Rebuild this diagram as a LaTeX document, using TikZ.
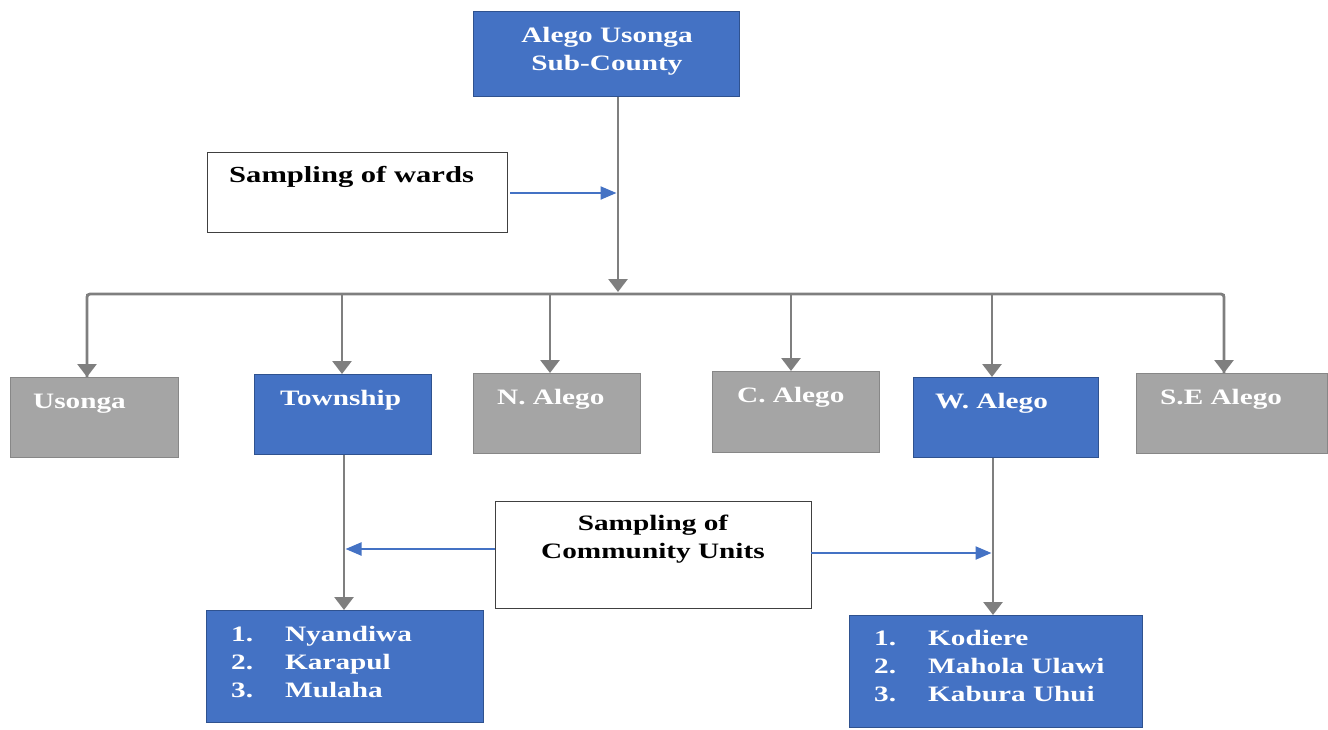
\documentclass[tikz,border=0pt]{standalone}
\usepackage{fontspec}
\setmainfont{Liberation Serif}[FakeStretch=1.33]
\usetikzlibrary{arrows.meta}
\definecolor{boxblue}{HTML}{4472C4}
\definecolor{blueedge}{HTML}{2F528F}
\definecolor{boxgray}{HTML}{A5A5A5}
\definecolor{grayedge}{HTML}{878787}
\definecolor{conngray}{HTML}{7F7F7F}
\definecolor{arrowblue}{HTML}{4472C4}
\begin{document}
\begin{tikzpicture}[x=1pt,y=-1pt,
  bluebox/.style={draw=blueedge, fill=boxblue, line width=1pt, inner sep=0pt, anchor=north west},
  graybox/.style={draw=grayedge, fill=boxgray, line width=1.2pt, inner sep=0pt, anchor=north west},
  whitebox/.style={draw=black!75, fill=white, line width=1.3pt, inner sep=0pt, anchor=north west},
  wtext/.style={text=white, font=\bfseries\fontsize{22}{28}\selectfont, inner sep=0pt},
  ktext/.style={text=black, font=\bfseries\fontsize{22}{28}\selectfont, inner sep=0pt},
  conn/.style={draw=conngray, line width=2.8pt, -{Triangle[length=13pt,width=19pt]}},
  bus/.style={draw=conngray, line width=2.8pt},
  barrow/.style={draw=arrowblue, line width=2.2pt, -{Triangle[length=16pt,width=13pt]}}
]
\useasboundingbox (0,0) rectangle (1328,729);

% top box
\node[bluebox, minimum width=266pt, minimum height=85pt] (top) at (473,11) {};
\node[wtext, align=center, anchor=base] (toptxt) at (607,70) {Alego Usonga\\Sub-County};

% sampling of wards
\node[whitebox, minimum width=300pt, minimum height=80pt] (sw) at (207,152) {};
\node[ktext, anchor=base west, font=\bfseries\fontsize{23}{28}\selectfont] (swtxt) at (229,182) {Sampling of wards};

% ward boxes
\node[graybox, minimum width=168pt, minimum height=80pt] (usonga) at (10,377) {};
\node[bluebox, minimum width=177pt, minimum height=80pt] (township) at (254,374) {};
\node[graybox, minimum width=167pt, minimum height=80pt] (nalego) at (473,373) {};
\node[graybox, minimum width=167pt, minimum height=81pt] (calego) at (712,371) {};
\node[bluebox, minimum width=185pt, minimum height=80pt] (walego) at (913,377) {};
\node[graybox, minimum width=191pt, minimum height=80pt] (sealego) at (1136,373) {};

\node[wtext, anchor=base west] (t1) at (33,408) {Usonga};
\node[wtext, anchor=base west] (t2) at (280,405) {Township};
\node[wtext, anchor=base west] (t3) at (497,404) {N. Alego};
\node[wtext, anchor=base west] (t4) at (737,402) {C. Alego};
\node[wtext, anchor=base west] (t5) at (935,408) {W. Alego};
\node[wtext, anchor=base west] (t6) at (1160,404) {S.E Alego};

% connectors top -> bus
\coordinate (busc) at (618,294);
\coordinate (d1) at (87,294);
\coordinate (d2) at (342,294);
\coordinate (d3) at (550,294);
\coordinate (d4) at (791,294);
\coordinate (d5) at (992,294);
\coordinate (d6) at (1224,294);
\draw[conn, shorten >=2pt] (top.south -| busc) -- (busc);
\draw[bus, rounded corners=3pt] (d1 |- usonga.north) -- (d1) -- (d6) -- (d6 |- sealego.north);
\draw[conn] (d1) -- (d1 |- usonga.north);
\draw[conn] (d2) -- (d2 |- township.north);
\draw[conn] (d3) -- (d3 |- nalego.north);
\draw[conn] (d4) -- (d4 |- calego.north);
\draw[conn] (d5) -- (d5 |- walego.north);
\draw[conn] (d6) -- (d6 |- sealego.north);

% sampling of wards arrow
\coordinate (swa) at (510,193);
\draw[barrow, shorten >=1.5pt] (swa) -- (swa -| busc);

% community units
\node[whitebox, minimum width=316pt, minimum height=107pt] (cu) at (495,501) {};
\node[ktext, align=center, anchor=base] (cutxt) at (653,558) {Sampling of\\Community Units};

% lists
\node[bluebox, minimum width=277pt, minimum height=112pt] (tlist) at (206,610) {};
\node[bluebox, minimum width=293pt, minimum height=112pt] (wlist) at (849,615) {};
\node[wtext, align=left, anchor=base west] (tl) at (231,697)
  {\makebox[54pt][l]{1.}Nyandiwa\\\makebox[54pt][l]{2.}Karapul\\\makebox[54pt][l]{3.}Mulaha};
\node[wtext, align=left, anchor=base west] (wl) at (874,701)
  {\makebox[54pt][l]{1.}Kodiere\\\makebox[54pt][l]{2.}Mahola Ulawi\\\makebox[54pt][l]{3.}Kabura Uhui};

\coordinate (tx) at (344,0);
\coordinate (wx) at (993,0);
\draw[conn] (township.south -| tx) -- (tlist.north -| tx);
\draw[conn] (walego.south -| wx) -- (wlist.north -| wx);

\coordinate (cul) at (495,549);
\coordinate (cur) at (811,553);
\draw[barrow, shorten >=1.5pt] (cul) -- (cul -| tx);
\draw[barrow, shorten >=1.5pt] (cur) -- (cur -| wx);
\end{tikzpicture}
\end{document}
